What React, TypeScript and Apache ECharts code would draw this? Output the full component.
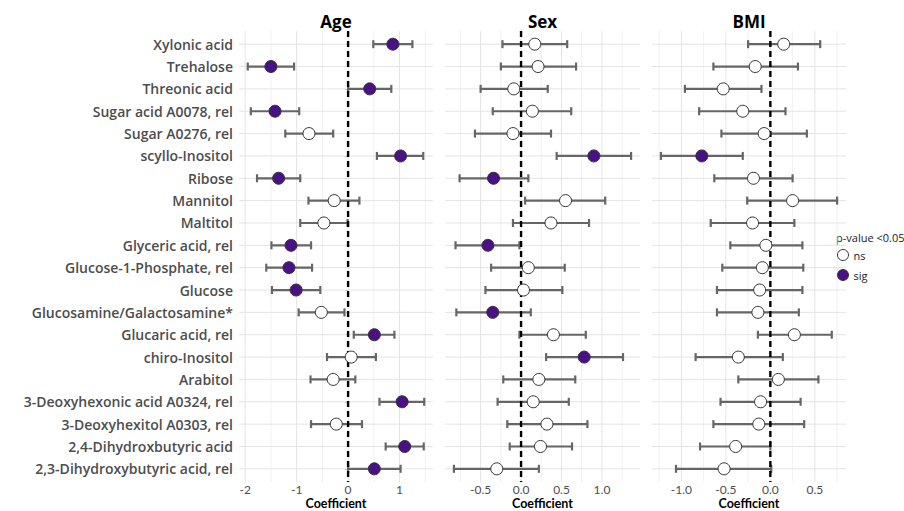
import React, { useEffect, useRef } from "react";
import * as echarts from "echarts";

const categories = [
  "Xylonic acid",
  "Trehalose",
  "Threonic acid",
  "Sugar acid A0078, rel",
  "Sugar A0276, rel",
  "scyllo-Inositol",
  "Ribose",
  "Mannitol",
  "Maltitol",
  "Glyceric acid, rel",
  "Glucose-1-Phosphate, rel",
  "Glucose",
  "Glucosamine/Galactosamine*",
  "Glucaric acid, rel",
  "chiro-Inositol",
  "Arabitol",
  "3-Deoxyhexonic acid A0324, rel",
  "3-Deoxyhexitol A0303, rel",
  "2,4-Dihydroxbutyric acid",
  "2,3-Dihydroxybutyric acid, rel",
];

// Age
const ageEst = [0.87, -1.5, 0.42, -1.42, -0.76, 1.02, -1.35, -0.27, -0.47, -1.11, -1.15, -1.01, -0.52, 0.51, 0.06, -0.29, 1.05, -0.23, 1.1, 0.51];
const ageLo = [0.49, -1.95, 0.0, -1.89, -1.22, 0.56, -1.77, -0.77, -0.93, -1.49, -1.59, -1.48, -0.96, 0.11, -0.41, -0.73, 0.61, -0.72, 0.73, 0.0];
const ageHi = [1.25, -1.05, 0.84, -0.95, -0.29, 1.46, -0.93, 0.22, -0.01, -0.72, -0.7, -0.54, -0.07, 0.9, 0.54, 0.14, 1.48, 0.27, 1.47, 1.02];
const ageSig = [1, 1, 1, 1, 0, 1, 1, 0, 0, 1, 1, 1, 0, 1, 0, 0, 1, 0, 1, 1];

// Sex
const sexEst = [0.17, 0.21, -0.09, 0.14, -0.1, 0.9, -0.34, 0.55, 0.37, -0.41, 0.09, 0.03, -0.35, 0.4, 0.78, 0.22, 0.15, 0.32, 0.24, -0.3];
const sexLo = [-0.23, -0.25, -0.5, -0.35, -0.57, 0.44, -0.76, 0.05, -0.1, -0.81, -0.37, -0.44, -0.8, -0.02, 0.31, -0.22, -0.29, -0.17, -0.14, -0.83];
const sexHi = [0.57, 0.68, 0.33, 0.62, 0.37, 1.36, 0.09, 1.04, 0.84, -0.02, 0.54, 0.51, 0.12, 0.8, 1.26, 0.67, 0.59, 0.82, 0.63, 0.22];
const sexSig = [0, 0, 0, 0, 0, 1, 1, 0, 0, 1, 0, 0, 1, 0, 1, 0, 0, 0, 0, 0];

// BMI
const bmiEst = [0.15, -0.17, -0.53, -0.31, -0.07, -0.77, -0.19, 0.25, -0.2, -0.05, -0.09, -0.12, -0.14, 0.27, -0.36, 0.09, -0.11, -0.13, -0.39, -0.52];
const bmiLo = [-0.25, -0.64, -0.96, -0.8, -0.55, -1.23, -0.63, -0.26, -0.67, -0.45, -0.54, -0.6, -0.6, -0.14, -0.84, -0.36, -0.56, -0.64, -0.79, -1.06];
const bmiHi = [0.56, 0.31, -0.1, 0.17, 0.41, -0.31, 0.25, 0.75, 0.27, 0.36, 0.37, 0.36, 0.32, 0.69, 0.14, 0.54, 0.34, 0.38, 0.0, 0.01];
const bmiSig = [0, 0, 0, 0, 0, 1, 0, 0, 0, 0, 0, 0, 0, 0, 0, 0, 0, 0, 0, 0];

const panelTitles = ["Age", "Sex", "BMI"];
const axisTitle = "Coefficient";
const ageMajor = [-2, -1, 0, 1];
const ageMinor = [-1.5, -0.5, 0.5, 1.5];
const sexMajor = [-0.5, 0, 0.5, 1.0];
const sexMinor = [-0.75, -0.25, 0.25, 0.75, 1.25];
const bmiMajor = [-1.0, -0.5, 0, 0.5];
const bmiMinor = [-1.25, -0.75, -0.25, 0.25, 0.75];

const FONT = "'Open Sans', Lato, sans-serif";
const FONT_SM = "Lato, 'Open Sans', sans-serif";
const PURPLE = "#4a1085";

export default function App() {
  const ref = useRef<HTMLDivElement>(null);
  useEffect(() => {
    document.body.style.margin = "0";
    if (!ref.current) return;
    const chart = echarts.init(ref.current, null, { renderer: "svg" });

    const panels = [
      { est: ageEst, lo: ageLo, hi: ageHi, sig: ageSig, major: ageMajor, minor: ageMinor, min: -2.12, max: 1.65, left: 239, width: 194, fmt: (v: number) => String(v) },
      { est: sexEst, lo: sexLo, hi: sexHi, sig: sexSig, major: sexMajor, minor: sexMinor, min: -0.94, max: 1.47, left: 445, width: 195, fmt: (v: number) => v.toFixed(1) },
      { est: bmiEst, lo: bmiLo, hi: bmiHi, sig: bmiSig, major: bmiMajor, minor: bmiMinor, min: -1.33, max: 0.85, left: 652, width: 194, fmt: (v: number) => v.toFixed(1) },
    ];

    const top = 33;
    const height = 447;
    const ext = 2;

    const grids = panels.map((p) => ({ left: p.left, width: p.width, top, height, outerBoundsMode: "none", containLabel: false }));
    const xAxes = panels.map((p, i) => ({
      type: "value",
      gridIndex: i,
      min: p.min,
      max: p.max,
      splitLine: { show: false },
      axisLine: { show: false },
      axisTick: { show: false },
      axisLabel: {
        customValues: p.major,
        formatter: (v: number) => p.fmt(v),
        fontFamily: FONT_SM,
        fontSize: 12,
        lineHeight: 12,
        color: "#4d4d4d",
        margin: 3,
      },
    }));
    const yAxes = panels.map((p, i) => ({
      type: "category",
      gridIndex: i,
      data: categories,
      inverse: true,
      axisLine: { show: false },
      splitLine: { show: false },
      axisTick: { show: i === 0, length: 3, alignWithLabel: true, lineStyle: { color: "#aaa" } },
      axisLabel: {
        show: i === 0,
        fontFamily: FONT,
        fontSize: 14,
        fontWeight: 600,
        color: "#4d4d4d",
        margin: 6,
      },
    }));

    const series: any[] = [];
    panels.forEach((p, i) => {
      const vdata = [
        ...p.major.map((v) => [v, 0, 1]),
        ...p.minor.map((v) => [v, 0, 0]),
      ];
      series.push({
        type: "custom",
        xAxisIndex: i,
        yAxisIndex: i,
        silent: true,
        z: 1,
        data: vdata,
        renderItem: (params: any, api: any) => {
          const cs = params.coordSys;
          const x = api.coord([api.value(0), 0])[0];
          const major = api.value(2) === 1;
          return {
            type: "line",
            shape: { x1: x, y1: cs.y - ext, x2: x, y2: cs.y + cs.height + ext },
            style: { stroke: major ? "#e4e4e4" : "#eeeeee", lineWidth: major ? 1 : 0.8 },
          };
        },
      });
      series.push({
        type: "custom",
        xAxisIndex: i,
        yAxisIndex: i,
        silent: true,
        z: 1,
        data: categories.map((_, k) => [0, k]),
        renderItem: (params: any, api: any) => {
          const cs = params.coordSys;
          const y = api.coord([0, api.value(1)])[1];
          return {
            type: "line",
            shape: { x1: cs.x, y1: y, x2: cs.x + cs.width, y2: y },
            style: { stroke: "#e4e4e4", lineWidth: 1 },
          };
        },
      });
      series.push({
        type: "custom",
        xAxisIndex: i,
        yAxisIndex: i,
        silent: true,
        z: 2,
        encode: { x: [0, 2], y: 1 },
        data: p.est.map((_, k) => [p.lo[k], k, p.hi[k]]),
        renderItem: (params: any, api: any) => {
          const y = api.value(1);
          const a = api.coord([api.value(0), y]);
          const b = api.coord([api.value(2), y]);
          const h = 4;
          const style = { stroke: "#666666", lineWidth: 2.2 };
          return {
            type: "group",
            children: [
              { type: "line", shape: { x1: a[0], y1: a[1], x2: b[0], y2: b[1] }, style },
              { type: "line", shape: { x1: a[0], y1: a[1] - h, x2: a[0], y2: a[1] + h }, style },
              { type: "line", shape: { x1: b[0], y1: b[1] - h, x2: b[0], y2: b[1] + h }, style },
            ],
          };
        },
      });
      series.push({
        type: "custom",
        xAxisIndex: i,
        yAxisIndex: i,
        silent: true,
        z: 3,
        data: [[0, 0]],
        renderItem: (params: any, api: any) => {
          const cs = params.coordSys;
          const x = api.coord([0, 0])[0];
          return {
            type: "line",
            shape: { x1: x, y1: cs.y - ext, x2: x, y2: cs.y + cs.height + ext },
            style: { stroke: "#000", lineWidth: 2.4, lineDash: [6, 4] },
          };
        },
      });
      series.push({
        type: "scatter",
        name: "ns",
        xAxisIndex: i,
        yAxisIndex: i,
        z: 4,
        symbol: "circle",
        symbolSize: 12,
        itemStyle: { color: "#ffffff", borderColor: "#333333", borderWidth: 1, opacity: 1 },
        data: p.est.map((v, k) => (p.sig[k] ? null : [v, k])).filter((d) => d),
      });
      series.push({
        type: "scatter",
        name: "sig",
        xAxisIndex: i,
        yAxisIndex: i,
        z: 4,
        symbol: "circle",
        symbolSize: 12,
        itemStyle: { color: PURPLE, borderColor: "#333333", borderWidth: 1, opacity: 1 },
        data: p.est.map((v, k) => (p.sig[k] ? [v, k] : null)).filter((d) => d),
      });
    });

    const graphics: any[] = [];
    panels.forEach((p, i) => {
      graphics.push({
        type: "text",
        x: p.left + p.width / 2,
        y: 21,
        style: {
          text: panelTitles[i],
          fontFamily: FONT,
          fontSize: 17,
          fontWeight: "bold",
          fill: "#000",
          textAlign: "center",
          textVerticalAlign: "middle",
        },
      });
      graphics.push({
        type: "text",
        x: p.left + p.width / 2,
        y: 503,
        style: {
          text: axisTitle,
          fontFamily: FONT_SM,
          fontSize: 12.5,
          lineHeight: 12,
          fontWeight: "bold",
          fill: "#000",
          textAlign: "center",
          textVerticalAlign: "middle",
        },
      });
    });
    graphics.push({
      type: "text",
      x: 836,
      y: 237,
      style: {
        text: "p-value <0.05",
        fontFamily: FONT,
        fontSize: 11,
        fill: "#222",
        textAlign: "left",
        textVerticalAlign: "middle",
      },
    });

    chart.setOption({
      animation: false,
      backgroundColor: "#ffffff",
      grid: grids,
      xAxis: xAxes,
      yAxis: yAxes,
      series,
      legend: {
        data: ["ns", "sig"],
        orient: "vertical",
        left: 837,
        top: 249,
        padding: 0,
        itemWidth: 11,
        itemHeight: 11,
        itemGap: 8,
        icon: "circle",
        selectedMode: false,
        itemStyle: { borderWidth: 1 },
        textStyle: { fontFamily: FONT, fontSize: 11, color: "#222" },
      },
      graphic: graphics,
    });
    return () => chart.dispose();
  }, []);
  return <div ref={ref} style={{ width: 904, height: 511 }} />;
}
